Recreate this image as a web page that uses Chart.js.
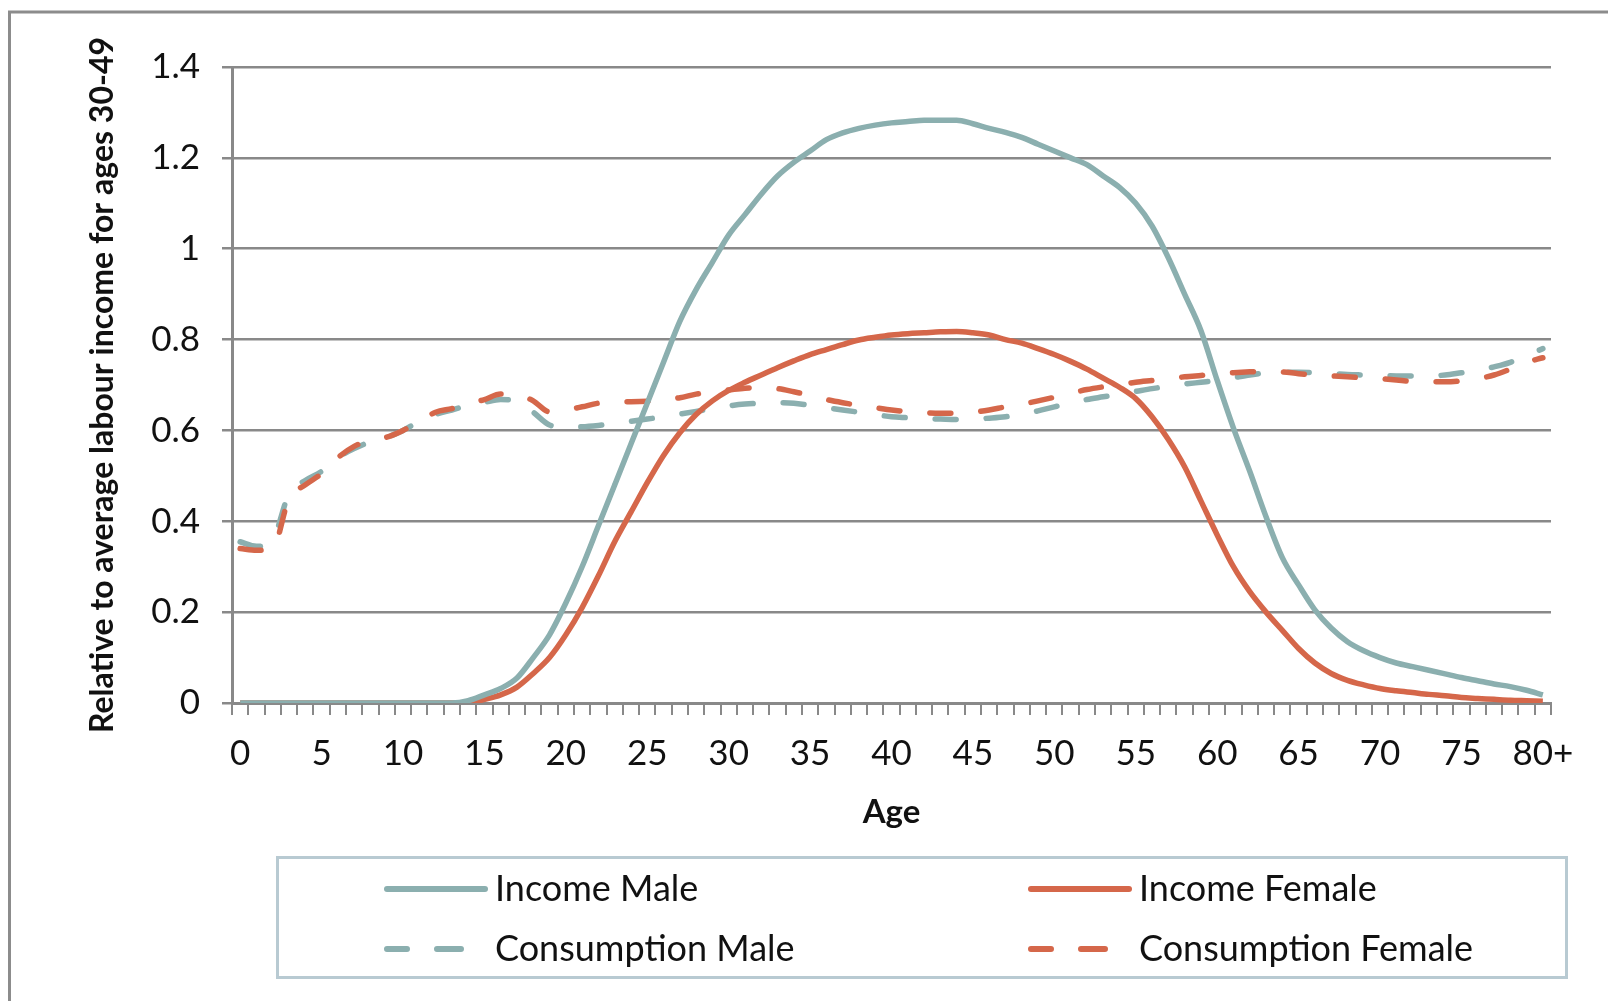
<!DOCTYPE html>
<html>
<head>
<meta charset="utf-8">
<script src="https://cdn.jsdelivr.net/npm/chart.js@4.4.0/dist/chart.umd.min.js"></script>
<style>
html, body { margin: 0; padding: 0; background: #fff; }
canvas { display: block; }
</style>
</head>
<body>
<canvas id="ageChart" width="1608" height="1001"></canvas>
<script>
// Age categories (0 .. 80+)
const ageLabels = [
    "0", "1", "2", "3", "4", "5", "6", "7", "8", "9",
    "10", "11", "12", "13", "14", "15", "16", "17", "18", "19",
    "20", "21", "22", "23", "24", "25", "26", "27", "28", "29",
    "30", "31", "32", "33", "34", "35", "36", "37", "38", "39",
    "40", "41", "42", "43", "44", "45", "46", "47", "48", "49",
    "50", "51", "52", "53", "54", "55", "56", "57", "58", "59",
    "60", "61", "62", "63", "64", "65", "66", "67", "68", "69",
    "70", "71", "72", "73", "74", "75", "76", "77", "78", "79",
    "80+"
];

const incomeMale = [
    0, 0, 0, 0, 0, 0, 0, 0, 0, 0,
    0, 0, 0, 0, 0.005, 0.018, 0.032, 0.055, 0.10, 0.15,
    0.22, 0.30, 0.39, 0.48, 0.57, 0.66, 0.75, 0.84, 0.91, 0.97,
    1.03, 1.075, 1.12, 1.16, 1.19, 1.215, 1.24, 1.255, 1.265, 1.272,
    1.277, 1.28, 1.283, 1.283, 1.283, 1.275, 1.265, 1.256, 1.245, 1.23,
    1.215, 1.20, 1.185, 1.16, 1.135, 1.10, 1.05, 0.98, 0.90, 0.82,
    0.71, 0.605, 0.51, 0.41, 0.32, 0.26, 0.205, 0.165, 0.135, 0.115,
    0.10, 0.088, 0.08, 0.072, 0.064, 0.056, 0.049, 0.042, 0.036, 0.028,
    0.018
];

const incomeFemale = [
    0, 0, 0, 0, 0, 0, 0, 0, 0, 0,
    0, 0, 0, 0, 0, 0.008, 0.018, 0.035, 0.065, 0.10,
    0.15, 0.21, 0.28, 0.355, 0.42, 0.485, 0.545, 0.595, 0.635, 0.665,
    0.688, 0.706, 0.722, 0.738, 0.753, 0.767, 0.778, 0.789, 0.799, 0.805,
    0.81, 0.813, 0.815, 0.817, 0.818, 0.815, 0.81, 0.80, 0.792, 0.78,
    0.767, 0.752, 0.735, 0.715, 0.695, 0.67, 0.63, 0.58, 0.52, 0.445,
    0.37, 0.30, 0.245, 0.20, 0.16, 0.12, 0.088, 0.065, 0.05, 0.04,
    0.032, 0.027, 0.023, 0.019, 0.016, 0.012, 0.01, 0.008, 0.006, 0.005,
    0.004
];

const consumptionMale = [
    0.355, 0.345, 0.36, 0.46, 0.49, 0.51, 0.54, 0.56, 0.575, 0.585,
    0.60, 0.62, 0.635, 0.645, 0.655, 0.662, 0.668, 0.665, 0.64, 0.612,
    0.607, 0.608, 0.611, 0.615, 0.62, 0.625, 0.63, 0.636, 0.642, 0.648,
    0.654, 0.658, 0.66, 0.661, 0.66, 0.655, 0.65, 0.645, 0.64, 0.635,
    0.63, 0.628, 0.626, 0.625, 0.624, 0.625, 0.627, 0.63, 0.636, 0.643,
    0.652, 0.66, 0.668, 0.674, 0.68, 0.686, 0.692, 0.697, 0.702, 0.706,
    0.71, 0.716, 0.722, 0.727, 0.728, 0.728, 0.727, 0.725, 0.723, 0.722,
    0.721, 0.72, 0.72, 0.72, 0.722, 0.727, 0.732, 0.74, 0.75, 0.765,
    0.78
];

const consumptionFemale = [
    0.34, 0.336, 0.34, 0.45, 0.48, 0.505, 0.54, 0.565, 0.578, 0.585,
    0.60, 0.62, 0.64, 0.648, 0.658, 0.668, 0.68, 0.68, 0.665, 0.641,
    0.645, 0.652, 0.66, 0.663, 0.663, 0.664, 0.668, 0.672, 0.68, 0.685,
    0.689, 0.693, 0.694, 0.692, 0.685, 0.677, 0.668, 0.661, 0.655, 0.65,
    0.645, 0.641, 0.639, 0.638, 0.638, 0.64, 0.645, 0.652, 0.658, 0.665,
    0.673, 0.682, 0.69, 0.696, 0.701, 0.706, 0.71, 0.714, 0.718, 0.721,
    0.724, 0.727, 0.729, 0.73, 0.729, 0.725, 0.722, 0.72, 0.718, 0.716,
    0.714, 0.711, 0.708, 0.707, 0.707, 0.709, 0.714, 0.722, 0.735, 0.75,
    0.76
];

const yTicks = [0, 0.2, 0.4, 0.6, 0.8, 1, 1.2, 1.4];

const TEAL = "#8bafaf";
const ORANGE = "#d5674a";
const GRID = "#898989";
const FONT = "Lato, 'Noto Sans', sans-serif";

// white background + outer frame
const framePlugin = {
    id: "frame",
    beforeDraw(chart) {
        const ctx = chart.ctx;
        ctx.save();
        ctx.fillStyle = "#fff";
        ctx.fillRect(0, 0, chart.width, chart.height);
        ctx.strokeStyle = "#8c8c8c";
        ctx.lineWidth = 3;
        ctx.strokeRect(9.5, 12, chart.width + 20, chart.height + 20);
        ctx.restore();
    },
};

// legend in a box, two columns
const boxLegend = {
    id: "boxLegend",
    afterDraw(chart) {
        const ctx = chart.ctx;
        const slots = [
            { x: 385, y: 889 },
            { x: 1029, y: 889 },
            { x: 385, y: 949 },
            { x: 1029, y: 949 },
        ];
        ctx.save();
        ctx.strokeStyle = "#b8cad2";
        ctx.lineWidth = 3;
        ctx.strokeRect(277.5, 857.5, 1289, 120);

        chart.data.datasets.forEach((ds, i) => {
            const s = slots[i];
            ctx.strokeStyle = ds.borderColor;
            ctx.lineWidth = 6;
            ctx.lineCap = "round";
            ctx.beginPath();
            if (ds.borderDash && ds.borderDash.length) {
                ctx.moveTo(s.x + 2, s.y);
                ctx.lineTo(s.x + 22, s.y);
                ctx.moveTo(s.x + 52, s.y);
                ctx.lineTo(s.x + 76, s.y);
            } else {
                ctx.moveTo(s.x + 2, s.y);
                ctx.lineTo(s.x + 100, s.y);
            }
            ctx.stroke();

            ctx.fillStyle = "#111";
            ctx.font = "36px " + FONT;
            ctx.textBaseline = "middle";
            ctx.textAlign = "left";
            ctx.fillText(ds.label, s.x + 110, s.y);
        });
        ctx.restore();
    },
};

const ctx = document.getElementById("ageChart").getContext("2d");
new Chart(ctx, {
    type: "line",
    data: {
        labels: ageLabels,
        datasets: [
            {
                label: "Income Male",
                data: incomeMale,
                borderColor: TEAL,
                borderWidth: 5.5,
                order: 1,
            },
            {
                label: "Income Female",
                data: incomeFemale,
                borderColor: ORANGE,
                borderWidth: 5.5,
                order: 2,
            },
            {
                label: "Consumption Male",
                data: consumptionMale,
                borderColor: TEAL,
                borderWidth: 5.5,
                borderDash: [21, 30],
                borderCapStyle: "round",
                order: 4,
            },
            {
                label: "Consumption Female",
                data: consumptionFemale,
                borderColor: ORANGE,
                borderWidth: 5.5,
                borderDash: [21, 30],
                borderCapStyle: "round",
                order: 3,
            },
        ],
    },
    options: {
        responsive: false,
        animation: false,
        devicePixelRatio: 1,
        layout: {
            padding: { left: 0, right: 57, top: 67, bottom: 148 },
        },
        elements: {
            point: { radius: 0 },
            line: { cubicInterpolationMode: "monotone", borderJoinStyle: "round" },
        },
        plugins: {
            legend: { display: false },
            tooltip: { enabled: false },
        },
        scales: {
            x: {
                type: "category",
                offset: true,
                afterFit(scale) {
                    scale.height = 150;
                },
                grid: {
                    offset: true,
                    drawOnChartArea: false,
                    color: GRID,
                    lineWidth: 2,
                    tickLength: 12,
                },
                border: { color: GRID, width: 3 },
                ticks: {
                    autoSkip: false,
                    maxRotation: 0,
                    padding: 18,
                    color: "#111",
                    font: { family: FONT, size: 35 },
                    callback: (val, idx) => (idx % 5 === 0 ? ageLabels[idx] : ""),
                },
                title: {
                    display: true,
                    text: "Age",
                    color: "#111",
                    font: { family: FONT, size: 33, weight: "bold" },
                    padding: { top: 0, bottom: 21 },
                },
            },
            y: {
                min: 0,
                max: 1.4,
                afterFit(scale) {
                    scale.width = 232;
                },
                afterBuildTicks(scale) {
                    scale.ticks = yTicks.map((v) => ({ value: v }));
                },
                grid: {
                    color: GRID,
                    lineWidth: 2.5,
                    tickLength: 10,
                },
                border: { color: GRID, width: 3 },
                ticks: {
                    padding: 22,
                    color: "#111",
                    font: { family: FONT, size: 35 },
                    callback: (v) => String(Math.round(v * 10) / 10),
                },
                title: {
                    display: true,
                    text: "Relative to average labour income for ages 30-49",
                    color: "#111",
                    font: { family: FONT, size: 32, weight: "bold" },
                    padding: { top: 83, bottom: 0 },
                },
            },
        },
    },
    plugins: [framePlugin, boxLegend],
});
</script>
</body>
</html>
